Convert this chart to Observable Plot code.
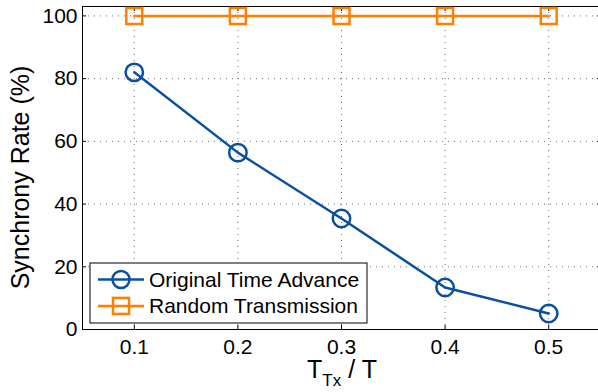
<!DOCTYPE html>
<html><head><meta charset="utf-8">
<script src="https://cdn.jsdelivr.net/npm/d3@7"></script>
<script src="https://cdn.jsdelivr.net/npm/@observablehq/plot@0.6"></script>
<style>
html,body{margin:0;padding:0;background:#fff;}
#chart{width:598px;height:392px;overflow:hidden;}
</style></head><body><div id="chart"></div>
<script>
const ratios = [0.1, 0.2, 0.3, 0.4, 0.5];
const originalTimeAdvance = [82.0, 56.4, 35.4, 13.4, 5.1];
const randomTransmission = [100, 100, 100, 100, 100];
const seriesNames = ["Original Time Advance", "Random Transmission"];
const seriesColors = ["#0a4fa2", "#ff8000"];
const seriesSymbols = ["circle", "square"];
const xTicks = [0.1, 0.2, 0.3, 0.4, 0.5];
const yTicks = [0, 20, 40, 60, 80, 100];
const yLabel = "Synchrony Rate (%)";
const xLabelParts = ["T", "Tx", " / T"];

const rows = [];
ratios.forEach((r, i) => {
  rows.push({x: r, y: originalTimeAdvance[i], s: 0});
  rows.push({x: r, y: randomTransmission[i], s: 1});
});
const serie = k => rows.filter(d => d.s === k);

const FONT = "Liberation Sans, Arial, Helvetica, sans-serif";

function decorations(index, scales, values, dims) {
  const g = d3.create("svg:g").attr("font-family", FONT);
  const left = dims.marginLeft, bottom = dims.height - dims.marginBottom;
  const right = dims.width - dims.marginRight, top = dims.marginTop;
  // legend
  const lx = left + 8, ly = bottom - 6, w = 277, h = 60;
  g.append("rect").attr("x", lx).attr("y", ly - h).attr("width", w).attr("height", h)
    .attr("fill", "white").attr("stroke", "black").attr("stroke-width", 1);
  seriesNames.forEach((name, i) => {
    const cy = ly - h + 16.5 + i * 26.4;
    const c = seriesColors[i];
    g.append("line").attr("x1", lx + 8).attr("x2", lx + 54).attr("y1", cy).attr("y2", cy)
      .attr("stroke", c).attr("stroke-width", 2.5);
    if (seriesSymbols[i] === "circle") {
      g.append("circle").attr("cx", lx + 31).attr("cy", cy).attr("r", 8.5)
        .attr("fill", "none").attr("stroke", c).attr("stroke-width", 2.5);
    } else {
      g.append("rect").attr("x", lx + 31 - 8).attr("y", cy - 8).attr("width", 16).attr("height", 16)
        .attr("fill", "none").attr("stroke", c).attr("stroke-width", 2.5);
    }
    g.append("text").attr("x", lx + 59).attr("y", cy).attr("dy", "0.35em")
      .attr("text-anchor", "start").attr("font-size", 21).attr("fill", "black").text(name);
  });
  // x label
  const xl = g.append("text").attr("x", (left + right) / 2 + 1).attr("y", bottom + 49)
    .attr("text-anchor", "middle").attr("font-size", 25).attr("fill", "black");
  xl.append("tspan").text(xLabelParts[0]);
  xl.append("tspan").attr("font-size", 17).attr("dy", 8).text(xLabelParts[1]);
  xl.append("tspan").attr("dy", -8).text(xLabelParts[2]);
  // y label
  g.append("text").attr("transform", `translate(${left - 62},${(top + bottom) / 2 + 10}) rotate(-90)`)
    .attr("text-anchor", "middle").attr("dy", "0.35em").attr("font-size", 25).attr("fill", "black").text(yLabel);
  return g.node();
}

const plot = Plot.plot({
  width: 598,
  height: 392,
  marginLeft: 82,
  marginRight: -2,
  marginTop: 6,
  marginBottom: 63,
  style: {fontFamily: FONT, fontSize: "21px", background: "white", color: "black"},
  x: {domain: [0.05, 0.55], label: null},
  y: {domain: [0, 103], label: null},
  marks: [
    Plot.gridX(xTicks, {stroke: "#555", strokeOpacity: 0.85, strokeDasharray: "1,5"}),
    Plot.gridY(yTicks, {stroke: "#555", strokeOpacity: 0.85, strokeDasharray: "1,5"}),
    Plot.frame({stroke: "black", strokeWidth: 1}),
    Plot.axisX(xTicks, {anchor: "bottom", tickSize: -4, tickPadding: 14, label: null, tickFormat: d => d.toFixed(1), fontSize: 21}),
    Plot.axisX(xTicks, {anchor: "top", tickSize: -4, label: null, tickFormat: () => ""}),
    Plot.axisY(yTicks, {anchor: "left", tickSize: -4, tickPadding: 9, label: null, fontSize: 21}),
    Plot.axisY(yTicks, {anchor: "right", tickSize: -4, label: null, tickFormat: () => ""}),
    Plot.line(serie(0), {x: "x", y: "y", stroke: seriesColors[0], strokeWidth: 2.5}),
    Plot.dot(serie(0), {x: "x", y: "y", r: 8.7, symbol: "circle", stroke: seriesColors[0], strokeWidth: 2.5, fill: "none"}),
    Plot.line(serie(1), {x: "x", y: "y", stroke: seriesColors[1], strokeWidth: 2.5}),
    Plot.dot(serie(1), {x: "x", y: "y", r: 9, symbol: "square", stroke: seriesColors[1], strokeWidth: 2.5, fill: "none"}),
    decorations
  ]
});
document.getElementById("chart").appendChild(plot);
</script>
</body></html>
